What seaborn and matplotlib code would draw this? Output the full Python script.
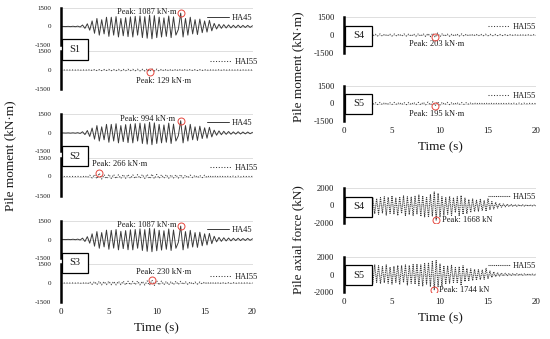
import numpy as np
import matplotlib
matplotlib.use("Agg")
import matplotlib.pyplot as plt
from matplotlib.patches import Rectangle
import seaborn as sns

# ---------------- data ----------------
time_m = np.arange(0, 20.001, 0.25)   # moment time histories (s)
time_a = np.arange(0, 20.001, 0.2)    # axial force time histories (s)

s1_ha45 = [0, 5, -5, 10, -10, 20, -15, 30, -40,
           120, -150, 220, -300, 450, -550, 650, -700,
           550, -600, 750, -800, 750, -700, 800, -850, 650, -750, 720, -820,
           780, -850, 820, -700, 850, -900, 800, -950, 920, -1000, 880, -900,
           760, -850, 700, -800, 850, -900, 780, -700, -250, 1087, -850, 650,
           -700, 750, -600, 550, -650, 600, -500, 450, -450, 500, -350, 250,
           -200, 180, -150, 150, -120, 130, -110, 100, -100, 110, -90, 90, -80, 90, -70, 60]
s1_hai55 = [0, 2, -2, 3, -3, 5, -5, 6, -8,
            -15, 20, -25, 30, -35, 40, -45, 40,
            -50, 45, -40, 50, -55, 45, -50, 55, -60, 50, -55, 60,
            -50, 55, -60, 65, -70, 60, -75, 80, -129, 90, -80, 70,
            -75, 65, -60, 55, -60, 50, -55, 60, -50, 55, -45, 50,
            -40, 45, -40, 35, -40, 35, -30, 30, -30, 25, -25, 20,
            -20, 20, -15, 15, -15, 15, -10, 10, -10, 10, -10, 8, -8, 8, -5, 5]
s2_ha45 = [0, 5, -5, 10, -10, 15, -15, 25, -35,
           100, -130, 200, -280, 400, -500, 600, -650,
           500, -550, 700, -750, 700, -650, 750, -800, 600, -700, 680, -780,
           720, -800, 760, -650, 800, -850, 750, -900, 870, -950, 820, -850,
           700, -800, 650, -750, 800, -850, 720, -650, -230, 994, -800, 600,
           -650, 700, -550, 500, -600, 550, -450, 420, -420, 460, -320, 230,
           -180, 170, -140, 140, -110, 120, -100, 90, -90, 100, -80, 80, -70, 80, -60, 55]
s2_hai55 = [0, 2, -2, 3, -3, 5, -5, 8, -10,
            -30, 50, -80, 100, -120, 150, -180, 266,
            -200, 150, -180, 170, -150, 160, -170, 140, -160, 150, -140, 160,
            -150, 130, -160, 150, -140, 160, -150, 170, -180, 190, -170, 160,
            -150, 140, -130, 150, -140, 130, -120, 140, -130, 150, -120, 110,
            -100, 110, -90, 100, -90, 80, -90, 100, -80, 70, -60, 60,
            -50, 50, -40, 40, -40, 35, -30, 30, -30, 25, -25, 20, -20, 20, -15, 15]
s3_ha45 = [0, 5, -5, 10, -10, 20, -15, 30, -40,
           110, -160, 230, -300, 460, -540, 640, -710,
           560, -600, 760, -790, 740, -700, 810, -840, 660, -740, 720, -830,
           790, -840, 810, -710, 860, -890, 800, -960, 910, -990, 870, -910,
           750, -860, 710, -790, 850, -890, 770, -710, -240, 1087, -840, 640,
           -710, 740, -610, 560, -640, 590, -510, 460, -440, 490, -340, 260,
           -190, 170, -150, 140, -120, 120, -110, 100, -90, 100, -90, 80, -80, 90, -70, 60]
s3_hai55 = [0, 2, -2, 3, -3, 5, -5, 8, -10,
            -30, 50, -70, 90, -110, 120, -130, 140,
            -150, 120, -130, 150, -140, 130, -150, 140, -130, 150, -160, 140,
            -150, 130, -140, 160, -150, 140, -160, 170, -180, 230, -190, 170,
            -160, 150, -140, 130, -140, 120, -130, 140, -120, 130, -110, 100,
            -110, 90, -100, 80, -90, 80, -70, 80, -60, 60, -50, 50,
            -45, 40, -40, 35, -35, 30, -30, 25, -25, 20, -20, 20, -15, 15, -15, 10]
s4_moment = [0, 2, -2, 3, -3, 5, -5, 8, -10,
             30, -45, 60, -75, 90, -85, 90, -95,
             85, -90, 95, -90, 85, -95, 90, -100, 95, -90, 100, -105,
             95, -100, 110, -105, 115, -120, 130, -140, 160, -203, 170, -140,
             120, -110, 100, -105, 95, -90, 100, -95, 90, -85, 80, -80,
             75, -70, 75, -70, 65, -65, 70, -65, 60, -60, 55, -55,
             50, -50, 45, -45, 45, -40, 40, -40, 35, -35, 30, -30, 30, -25, 25, -20]
s5_moment = [0, 2, -2, 3, -3, 5, -5, 8, -10,
             35, -50, 65, -80, 90, -90, 95, -90,
             90, -95, 90, -85, 95, -90, 100, -95, 90, -100, 95, -100,
             105, -95, 100, -110, 115, -115, 125, -135, 150, -195, 160, -130,
             115, -105, 100, -100, 90, -95, 95, -90, 85, -80, 80, -75,
             75, -70, 70, -65, 65, -65, 65, -60, 60, -55, 55, -55,
             50, -50, 45, -45, 45, -40, 40, -40, 35, -35, 30, -30, 28, -25, 22, -20]
s4_axial = [0, 5, -5, 8, -8, 10, -10, 12, -12, 15, -15, 20, -20, 30,
            -300,
            900, -950, 800, -1000, 900, -850, 1000, -1100, 950, -900,
            1100, -1000, 850, -1150, 1000, -900, 1100, -1200, 1000, -1050,
            950, -1150, 1050, -1000, 1200, -1250, 1100, -1300, 1000, -1350,
            1250, -1200, 1550, -1668, 1400, -1300, 1000, -1100, 900, -1000,
            1050, -1150, 900, -800, 1000, -1200, 1150, -1000, 850, -950,
            700, -800, 750, -700, 600, -650, 700, -600, 550, -650,
            800, -500, 450, -400, 350, -300, 250, -200, 180, -150,
            150, -120, 120, -100, 100, -90, 90, -80, 80, -70,
            70, -60, 60, -50, 50, -40]
s5_axial = [0, 5, -5, 8, -8, 10, -10, 12, -12, 15, -15, 20, -20, 30,
            300,
            -1000, 1100, -900, 1000, -1050, 900, -950, 1100, -1000, 850,
            -1100, 950, -900, 1050, -1150, 1000, -900, 1100, -1200, 1050,
            -1000, 1150, -1100, 1200, -1250, 1100, -1300, 1250, -1100, 1350,
            -1400, 1500, -1744, 1600, -1400, 1200, -1300, 1000, -1100, 950,
            -1000, 1050, -900, 800, -1000, 900, -1250, 1000, -800, 700,
            -750, 650, -700, 600, -650, 550, -600, 500, -550, 700,
            -500, 400, -350, 300, -250, 200, -180, 160, -150, 140,
            -130, 120, -110, 100, -100, 90, -90, 80, -80, 70,
            -70, 60, -60, 50, -50, 40]

series_names = ["HA45", "HAI55"]
x_ticks = [0, 5, 10, 15, 20]

# ---------------- figure ----------------
sns.set_theme(style="white")
plt.rcParams["font.family"] = ["Liberation Serif", "DejaVu Serif"]
W, H = 550, 339
fig = plt.figure(figsize=(W / 100, H / 100), dpi=100)
TXT = "#1a1a1a"
LINE = "#3a3a3a"
RED = "#e5453c"


def add_ax(x0, x1, top, bottom):
    return fig.add_axes([x0 / W, 1 - bottom / H, (x1 - x0) / W, (bottom - top) / H])


def style(ax, lim, yfs, show_x):
    ax.set_facecolor("none")
    ax.set_xlim(0, 20)
    ax.set_ylim(-lim, lim)
    ax.set_yticks([-lim, 0, lim])
    ax.set_yticklabels([str(-lim), "0", str(lim)])
    ax.grid(False)
    ax.yaxis.grid(True, color="#d9d9d9", lw=0.6)
    for s in ["top", "right", "bottom"]:
        ax.spines[s].set_visible(False)
    ax.spines["left"].set_color("black")
    ax.spines["left"].set_linewidth(1.8)
    ax.tick_params(axis="y", length=0, labelsize=yfs, pad=7, labelcolor=TXT)
    ax.tick_params(axis="x", length=0, labelsize=6.5, pad=4.5, labelcolor=TXT)
    ax.set_xticks(x_ticks)
    ax.set_ylabel("")
    if show_x:
        ax.set_xticklabels([str(t) for t in x_ticks])
        ax.set_xlabel("Time (s)", fontsize=9.5, color=TXT, labelpad=4)
    else:
        ax.set_xticklabels([])
        ax.set_xlabel("")


def draw(ax, t, vals, name, dashed, dense=False):
    ls = "-" if not dashed else ((0, (1.0, 0.8)) if dense else ":")
    sns.lineplot(x=t, y=vals, ax=ax, color=LINE, lw=0.7 if not dashed else 0.75,
                 linestyle=ls, estimator=None, label=name)


def legend(ax, yfrac, xfrac=1.0):
    ax.legend(loc="center right", bbox_to_anchor=(xfrac, yfrac), frameon=False,
              fontsize=6, handlelength=2.7, handletextpad=0.3, borderpad=0,
              borderaxespad=0, labelcolor=TXT)


def peak(ax, t, vals, unit, tx, ty, ha="center"):
    v = np.asarray(vals, dtype=float)
    i = int(np.argmax(np.abs(v)))
    ax.plot(t[i], v[i], "o", mfc="none", mec=RED, ms=5, mew=0.7, zorder=5)
    ax.text(tx, ty, f"Peak: {abs(v[i]):.0f} {unit}", fontsize=6, color=TXT,
            ha=ha, va="center")


def box(x0, x1, top, bottom, label):
    fig.add_artist(Rectangle((x0 / W, 1 - bottom / H), (x1 - x0) / W, (bottom - top) / H,
                             transform=fig.transFigure, facecolor="white",
                             edgecolor="black", lw=0.9, zorder=10))
    fig.text((x0 + x1) / 2 / W, 1 - (top + bottom) / 2 / H, label, fontsize=7.5,
             ha="center", va="center", color=TXT, zorder=11)


# ---- left column: pile moment S1-S3 ----
LX0, LX1 = 61, 252.5
left_sets = [("S1", s1_ha45, s1_hai55, 8, (12.1, 1150), (10.7, -870, "center"), 0.73, 0.71),
             ("S2", s2_ha45, s2_hai55, 114.5, (11.9, 1170), (3.2, 1000, "left"), 0.77, 0.72),
             ("S3", s3_ha45, s3_hai55, 221, (12.1, 1170), (10.7, 850, "center"), 0.76, 0.66)]
for k, (lab, up, lo, T, up_txt, lo_txt, lg_up, lg_lo) in enumerate(left_sets):
    a_up = add_ax(LX0, LX1, T, T + 37)
    a_lo = add_ax(LX0, LX1, T + 43, T + 81)
    draw(a_up, time_m, up, series_names[0], False)
    draw(a_lo, time_m, lo, series_names[1], True)
    style(a_up, 1500, 5.0, False)
    style(a_lo, 1500, 5.0, k == 2)
    legend(a_up, lg_up, 1.0)
    legend(a_lo, lg_lo, 1.03)
    peak(a_up, time_m, up, "kN·m", up_txt[0], up_txt[1], ha="right")
    peak(a_lo, time_m, lo, "kN·m", lo_txt[0], lo_txt[1], ha=lo_txt[2])
    box(62, 88, T + 31.5, T + 51.5, lab)

fig.text(10 / W, 1 - 156 / H, "Pile moment (kN·m)", rotation=90, fontsize=9.5,
         ha="center", va="center", color=TXT)

# ---- right column: pile moment S4, S5 ----
RX0, RX1 = 344, 536
r1 = add_ax(RX0, RX1, 17, 53)
r2 = add_ax(RX0, RX1, 86, 121)
draw(r1, time_m, s4_moment, series_names[1], True)
draw(r2, time_m, s5_moment, series_names[1], True)
style(r1, 1500, 6.2, False)
style(r2, 1500, 6.2, True)
legend(r1, 0.72, 1.0)
legend(r2, 0.72, 1.0)
peak(r1, time_m, s4_moment, "kN·m", 9.6, -760)
peak(r2, time_m, s5_moment, "kN·m", 9.6, -880)
box(345, 372, 26, 46, "S4")
box(345, 372, 94, 113.5, "S5")
fig.text(298 / W, 1 - 67 / H, "Pile moment (kN·m)", rotation=90, fontsize=9.5,
         ha="center", va="center", color=TXT)

# ---- right column: pile axial force S4, S5 ----
r3 = add_ax(RX0, RX1, 188, 223)
r4 = add_ax(RX0, RX1, 257, 292)
draw(r3, time_a, s4_axial, series_names[1], True, dense=True)
draw(r4, time_a, s5_axial, series_names[1], True, dense=True)
style(r3, 2000, 6.2, False)
style(r4, 2000, 6.2, True)
legend(r3, 0.74, 1.0)
legend(r4, 0.75, 1.0)
peak(r3, time_a, s4_axial, "kN", 10.2, -1700, ha="left")
peak(r4, time_a, s5_axial, "kN", 9.9, -1744, ha="left")
box(345, 372, 197, 217, "S4")
box(345, 372, 265, 285, "S5")
fig.text(298 / W, 1 - 240 / H, "Pile axial force (kN)", rotation=90, fontsize=9.5,
         ha="center", va="center", color=TXT)

fig.savefig("out.png", dpi=100, facecolor="white")
